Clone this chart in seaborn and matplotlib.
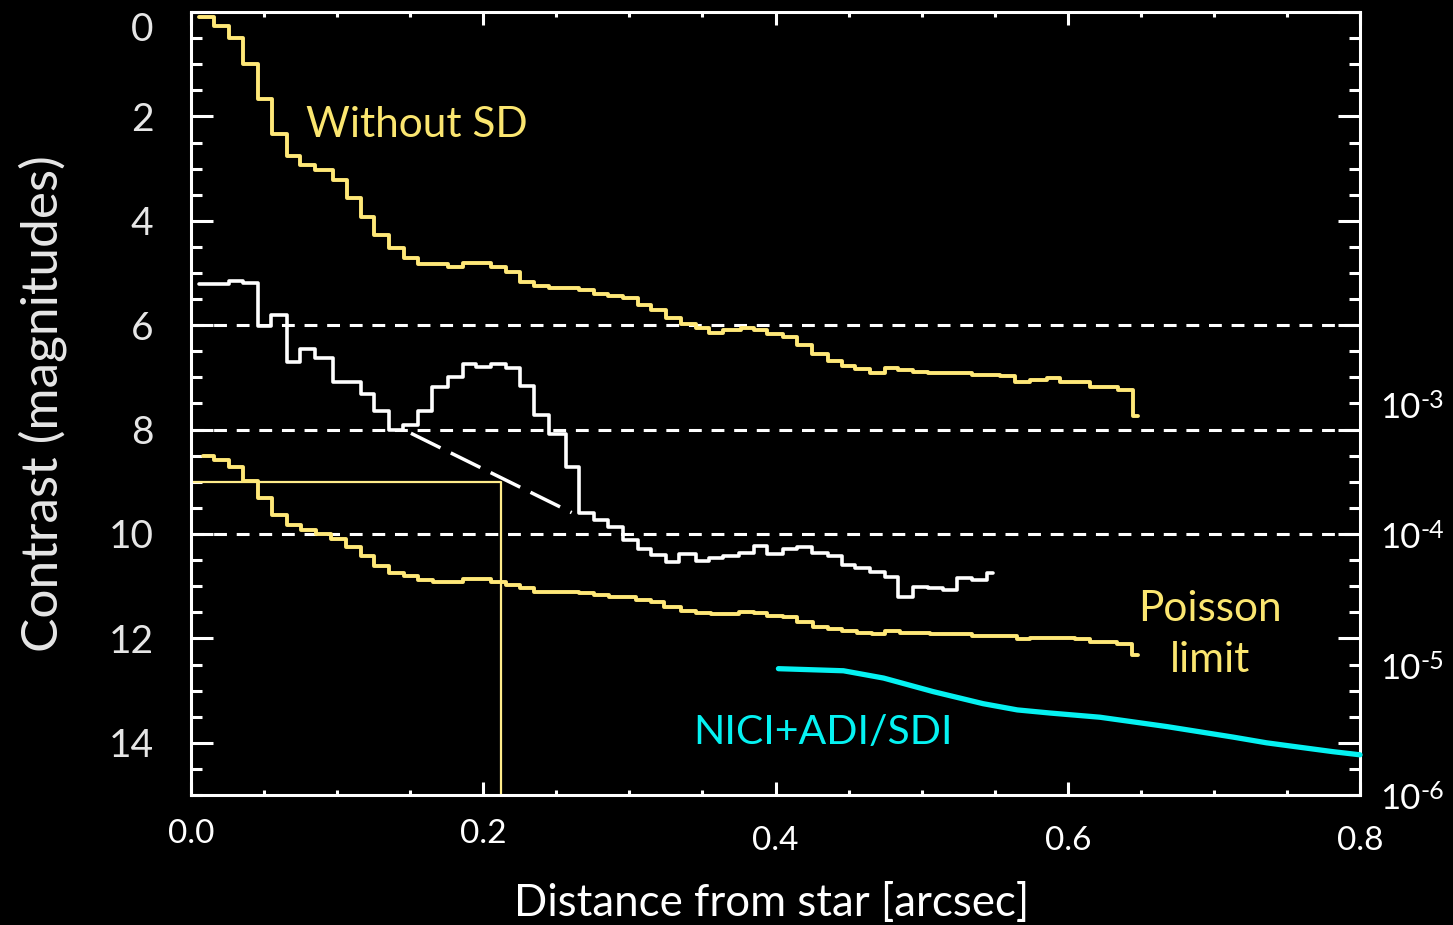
import numpy as np
import pandas as pd
import matplotlib
matplotlib.use("Agg")
import matplotlib.pyplot as plt
import matplotlib.transforms as mtrans
from matplotlib.ticker import MultipleLocator, FixedLocator
import seaborn as sns

# ---- contrast curves (separation in arcsec, contrast in magnitudes) ----
# "Without SD": step edges and levels
nosd_edges = [0.0055, 0.0157, 0.0260, 0.0356, 0.0458, 0.0554, 0.0656, 0.0745, 0.0848, 0.0971,
              0.1067, 0.1162, 0.1251, 0.1354, 0.1456, 0.1552, 0.1757, 0.1860, 0.2051, 0.2154,
              0.2250, 0.2345, 0.2448, 0.2653, 0.2756, 0.2851, 0.2954, 0.3056, 0.3145, 0.3248,
              0.3350, 0.3453, 0.3542, 0.3644, 0.3761, 0.3850, 0.3945, 0.4048, 0.4150, 0.4253,
              0.4356, 0.4458, 0.4547, 0.4650, 0.4752, 0.4841, 0.4944, 0.5046, 0.5347, 0.5538,
              0.5641, 0.5744, 0.5860, 0.5949, 0.6154, 0.6345, 0.6448, 0.6482]
nosd_mag = [0.09, 0.26, 0.50, 1.00, 1.67, 2.33, 2.75, 2.94, 3.03, 3.22,
            3.57, 3.93, 4.28, 4.53, 4.72, 4.83, 4.89, 4.81, 4.89, 4.99,
            5.18, 5.25, 5.29, 5.33, 5.41, 5.44, 5.48, 5.62, 5.71, 5.87,
            5.98, 6.06, 6.14, 6.10, 6.06, 6.10, 6.16, 6.23, 6.38, 6.56,
            6.69, 6.79, 6.84, 6.92, 6.82, 6.86, 6.90, 6.92, 6.96, 6.98,
            7.09, 7.05, 7.01, 7.09, 7.19, 7.24, 7.74]

# Spectral-differenced result (white)
sd_edges = [0.0055, 0.0260, 0.0356, 0.0458, 0.0547, 0.0656, 0.0745, 0.0848, 0.0971, 0.1162,
            0.1251, 0.1354, 0.1450, 0.1552, 0.1648, 0.1757, 0.1860, 0.1949, 0.2051, 0.2154,
            0.2250, 0.2345, 0.2448, 0.2564, 0.2653, 0.2756, 0.2851, 0.2954, 0.3056, 0.3145,
            0.3248, 0.3337, 0.3453, 0.3542, 0.3644, 0.3747, 0.3850, 0.3945, 0.4048, 0.4150,
            0.4253, 0.4356, 0.4458, 0.4547, 0.4650, 0.4752, 0.4841, 0.4944, 0.5046, 0.5149,
            0.5244, 0.5347, 0.5450, 0.5491]
sd_mag = [5.22, 5.16, 5.20, 6.02, 5.81, 6.71, 6.46, 6.63, 7.09, 7.32,
          7.65, 8.01, 7.91, 7.65, 7.19, 6.99, 6.75, 6.81, 6.75, 6.82,
          7.17, 7.72, 8.09, 8.72, 9.60, 9.73, 9.86, 10.12, 10.29, 10.40,
          10.54, 10.38, 10.51, 10.46, 10.42, 10.36, 10.23, 10.38, 10.29, 10.25,
          10.36, 10.42, 10.59, 10.66, 10.73, 10.82, 11.21, 11.02, 11.04, 11.07,
          10.85, 10.88, 10.75]

# Poisson limit (lower yellow)
poisson_edges = [0.0082, 0.0157, 0.0260, 0.0356, 0.0458, 0.0554, 0.0656, 0.0752, 0.0855, 0.0957,
                 0.1060, 0.1162, 0.1251, 0.1354, 0.1456, 0.1552, 0.1655, 0.1860, 0.2051, 0.2154,
                 0.2250, 0.2345, 0.2653, 0.2756, 0.2858, 0.3043, 0.3145, 0.3234, 0.3350, 0.3453,
                 0.3556, 0.3747, 0.3850, 0.3945, 0.4048, 0.4150, 0.4260, 0.4356, 0.4458, 0.4561,
                 0.4663, 0.4752, 0.4855, 0.5060, 0.5347, 0.5655, 0.5744, 0.6051, 0.6154, 0.6338,
                 0.6441, 0.6482]
poisson_mag = [8.51, 8.58, 8.72, 8.99, 9.31, 9.64, 9.83, 9.92, 10.00, 10.10,
               10.25, 10.42, 10.61, 10.75, 10.80, 10.88, 10.92, 10.86, 10.92, 10.98,
               11.03, 11.11, 11.13, 11.17, 11.21, 11.26, 11.30, 11.40, 11.47, 11.51,
               11.53, 11.49, 11.51, 11.57, 11.59, 11.68, 11.78, 11.82, 11.86, 11.90,
               11.92, 11.86, 11.90, 11.92, 11.96, 12.02, 12.00, 12.02, 12.06, 12.10,
               12.32]

# NICI + ADI/SDI curve
nici_sep = [0.402, 0.4465, 0.474, 0.508, 0.542, 0.5655, 0.588, 0.622, 0.668, 0.713, 0.736, 0.7815, 0.800]
nici_mag = [12.58, 12.62, 12.76, 13.02, 13.25, 13.37, 13.43, 13.51, 13.69, 13.89, 14.00, 14.17, 14.23]

# extrapolated floor (dashed) and the 9 mag / 0.212" marker
floor_sep = [0.1505, 0.2605]
floor_mag = [8.07, 9.59]
marker_sep = [0.0, 0.212, 0.212]
marker_mag = [9.0, 9.0, 15.0]

ref_levels = [6, 8, 10]
flux_mag = [7.5, 10.0, 12.5, 15.0]
flux_exp = ["-3", "-4", "-5", "-6"]

YELLOW = "#FFE878"
TEXT_YELLOW = "#FBE670"
CYAN = "#05F2F2"


def steps(edges, levels):
    return pd.DataFrame({"sep": edges, "mag": list(levels) + [levels[-1]]})


sns.set_theme(style="ticks")
plt.rcParams["font.family"] = ["Lato", "DejaVu Sans"]
plt.rcParams["axes.facecolor"] = "black"
plt.rcParams["figure.facecolor"] = "black"

fig = plt.figure(figsize=(14.53, 9.25), dpi=100)
ax = fig.add_axes([191 / 1453, 1 - 795 / 925, (1360 - 191) / 1453, (795 - 12) / 925])
ax.set_facecolor("black")

# horizontal reference levels
for lev in ref_levels:
    ax.axhline(lev, color="white", lw=2.2, dashes=(4.2, 3.2), zorder=1)

sns.lineplot(data=steps(nosd_edges, nosd_mag), x="sep", y="mag", ax=ax, color=YELLOW,
             lw=2.8, drawstyle="steps-post", estimator=None, sort=False, zorder=3)
sns.lineplot(data=steps(poisson_edges, poisson_mag), x="sep", y="mag", ax=ax, color=YELLOW,
             lw=2.8, drawstyle="steps-post", estimator=None, sort=False, zorder=3)
sns.lineplot(data=steps(sd_edges, sd_mag), x="sep", y="mag", ax=ax, color="white",
             lw=2.6, drawstyle="steps-post", estimator=None, sort=False, zorder=4)
sns.lineplot(x=marker_sep, y=marker_mag, ax=ax, color="#FFEC8A", lw=1.6,
             estimator=None, sort=False, zorder=2)
sns.lineplot(x=floor_sep, y=floor_mag, ax=ax, color="white", lw=2.5,
             linestyle=(0, (9.5, 3.3)), estimator=None, sort=False, zorder=4)
sns.lineplot(x=nici_sep, y=nici_mag, ax=ax, color=CYAN, lw=3.8,
             estimator=None, sort=False, zorder=5, clip_on=False)

ax.set_xlim(0, 0.8)
ax.set_ylim(15, 0)

# spines and ticks
for sp in ax.spines.values():
    sp.set_visible(True)
    sp.set_color("white")
    sp.set_linewidth(2.2)

ax.xaxis.set_major_locator(FixedLocator([0.0, 0.2, 0.4, 0.6, 0.8]))
ax.xaxis.set_minor_locator(MultipleLocator(0.05))
ax.yaxis.set_major_locator(FixedLocator([0, 2, 4, 6, 8, 10, 12, 14]))
ax.yaxis.set_minor_locator(MultipleLocator(0.5))
ax.set_xticklabels(["0.0", "0.2", "0.4", "0.6", "0.8"])
ax.set_yticklabels(["0", "2", "4", "6", "8", "10", "12", "14"])

ax.tick_params(axis="y", which="major", direction="in", length=15.8, width=2.2,
               color="white", left=True, right=True, pad=27, labelsize=28,
               labelcolor="#E6E6E6")
ax.tick_params(axis="y", which="minor", direction="in", length=8, width=2.2,
               color="white", left=True, right=True)
ax.tick_params(axis="x", which="major", direction="in", length=9.4, width=2.2,
               color="white", top=True, bottom=True, pad=17, labelsize=24,
               labelcolor="white")
ax.tick_params(axis="x", which="minor", direction="in", length=3.6, width=2.2,
               color="white", top=True, bottom=True)

ax.yaxis.get_major_ticks()[0].label1.set_verticalalignment("top")

for tick in ax.xaxis.get_major_ticks()[2:]:
    tick.label1.set_transform(tick.label1.get_transform()
                              + mtrans.ScaledTranslation(0, -7 / 100, fig.dpi_scale_trans))

ax.set_xlabel("Distance from star [arcsec]", fontsize=31.5, color="white")
ax.xaxis.set_label_coords(0.497, -0.112)
ax.set_ylabel("Contrast (magnitudes)", fontsize=37, color="#E6E6E6")
ax.yaxis.set_label_coords(-0.106, 0.5)

# flux-ratio labels on the right: "10" with a raised exponent
blend = mtrans.blended_transform_factory(ax.transAxes, ax.transData)
for mag, ex in zip(flux_mag, flux_exp):
    base = ax.annotate("10", xy=(1.017, mag), xycoords=blend, xytext=(0, -3),
                       textcoords="offset points", ha="left", va="center",
                       fontsize=25, color="white", annotation_clip=False)
    ax.annotate(ex, xy=(1.0, 1.0), xycoords=base, xytext=(0.5, 2),
                textcoords="offset points", ha="left", va="top",
                fontsize=18, color="white", annotation_clip=False)

# curve labels
ax.text(0.0786, 2.17, "Without SD", fontsize=30.5, color=TEXT_YELLOW, ha="left", va="center")
ax.text(0.6974, 11.93, "Poisson\nlimit", fontsize=30.5, color=TEXT_YELLOW, ha="center",
        va="center", linespacing=1.42)
ax.text(0.344, 13.81, "NICI+ADI/SDI", fontsize=29.5, color=CYAN, ha="left", va="center")

fig.savefig("out.png", dpi=100, facecolor="black")
